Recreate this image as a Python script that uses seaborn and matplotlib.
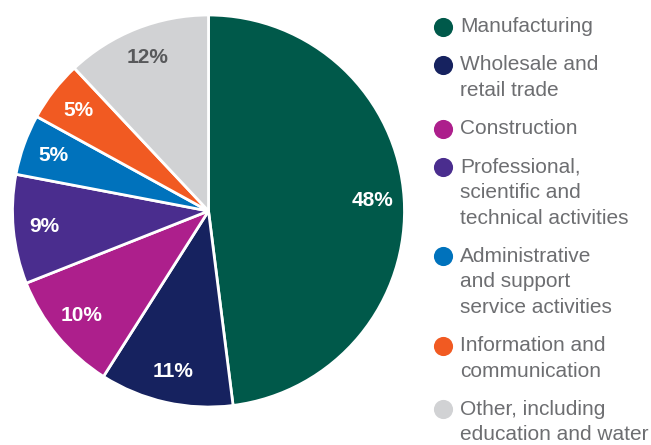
import matplotlib
matplotlib.use("Agg")
import matplotlib.pyplot as plt
import seaborn as sns

sns.set_theme(style="white")
plt.rcParams["font.family"] = ["Liberation Sans", "DejaVu Sans"]

# dados
sectors = [
    "Manufacturing",
    "Wholesale and\nretail trade",
    "Construction",
    "Professional,\nscientific and\ntechnical activities",
    "Administrative\nand support\nservice activities",
    "Information and\ncommunication",
    "Other, including\neducation and water",
]
shares = [48, 11, 10, 9, 5, 5, 12]
colors = ["#00594a", "#16225f", "#ad1f8c", "#4a2d8e", "#0072bc", "#f15a22", "#d1d2d4"]
label_colors = ["white"] * 6 + ["#58595b"]

W, H = 651, 445
fig = plt.figure(figsize=(W / 100, H / 100), dpi=100)

# pie: centro ~ (208.5, 211) px, raio ~196 px
cx, cy, r = 208.5, 211, 196
ax = fig.add_axes([(cx - r) / W, (H - cy - r) / H, 2 * r / W, 2 * r / H])
wedges, texts, autotexts = ax.pie(
    shares, colors=colors, startangle=90, counterclock=False,
    autopct="%d%%", pctdistance=0.84, radius=1,
    wedgeprops=dict(edgecolor="white", linewidth=2),
)
for t, c in zip(autotexts, label_colors):
    t.set_color(c)
    t.set_fontsize(15)
    t.set_fontweight("bold")
ax.set_xlim(-1, 1)
ax.set_ylim(-1, 1)
ax.set_aspect("equal")
ax.axis("off")

# legenda manual
lax = fig.add_axes([0, 0, 1, 1])
lax.set_xlim(0, W)
lax.set_ylim(H, 0)
lax.axis("off")
y = 27
for name, col in zip(sectors, colors):
    lax.scatter([443], [y], s=190, color=col, linewidths=0)
    lines = name.split("\n")
    for k, line in enumerate(lines):
        lax.text(460, y + k * 25.7, line, fontsize=15, color="#6d6e71",
                 va="center", ha="left")
    y += (len(lines) - 1) * 25.7 + 38

fig.savefig("out.png", dpi=100)
